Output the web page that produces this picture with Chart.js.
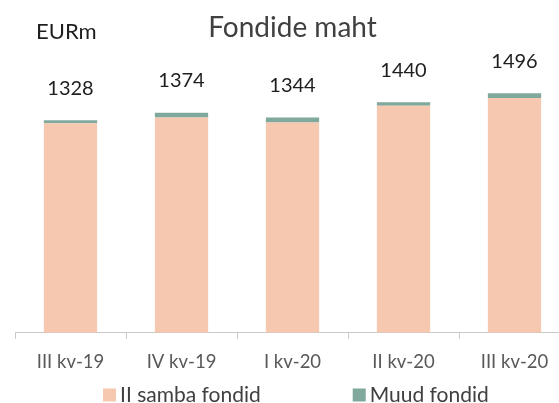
<!DOCTYPE html>
<html>
<head>
<meta charset="utf-8">
<script src="https://cdn.jsdelivr.net/npm/chart.js@4.4.1/dist/chart.umd.min.js"></script>
<style>
  html, body { margin: 0; padding: 0; background: #fff; overflow: hidden; }
  #wrap { width: 559px; height: 403px; overflow: hidden; }
</style>
</head>
<body>
<div id="wrap"><canvas id="chart" width="600" height="403"></canvas></div>
<script>
// data (EUR million)
const categories = ["III kv-19", "IV kv-19", "I kv-20", "II kv-20", "III kv-20"];
const sambaFondid = [1308, 1344, 1314, 1418, 1466];
const muudFondid = [20, 30, 30, 22, 30];
const seriesNames = ["II samba fondid", "Muud fondid"];
const seriesColors = ["#f6c8b0", "#80a89d"];

const FONT = 'Lato, "Open Sans", sans-serif';

// totals above the bars, the "EURm" unit and the legend
const decor = {
  id: "decor",
  afterDatasetsDraw(chart) {
    const ctx = chart.ctx;
    const y = chart.scales.y;
    const meta = chart.getDatasetMeta(0);
    ctx.save();
    ctx.textBaseline = "middle";

    ctx.font = "20px " + FONT;
    ctx.fillStyle = "#1e1e1e";
    ctx.textAlign = "center";
    categories.forEach((c, i) => {
      const total = sambaFondid[i] + muudFondid[i];
      ctx.fillText(String(total), meta.data[i].x, y.getPixelForValue(total) - 32);
    });

    ctx.textAlign = "left";
    ctx.font = "22px " + FONT;
    ctx.fillText("EURm", 36, 32);

    // legend
    ctx.font = "21px " + FONT;
    const box = 13, gap = 4, between = 92;
    const w = seriesNames.map(s => ctx.measureText(s).width);
    let x = 103;
    const ly = 395;
    seriesNames.forEach((name, i) => {
      ctx.fillStyle = seriesColors[i];
      ctx.fillRect(x, ly - box / 2, box, box);
      ctx.fillStyle = "#404040";
      ctx.fillText(name, x + box + gap, ly);
      x += box + gap + w[i] + between;
    });
    ctx.restore();
  }
};

new Chart(document.getElementById("chart"), {
  type: "bar",
  data: {
    labels: categories,
    datasets: [
      { label: seriesNames[0], data: sambaFondid, backgroundColor: seriesColors[0] },
      { label: seriesNames[1], data: muudFondid, backgroundColor: seriesColors[1] }
    ]
  },
  options: {
    responsive: false,
    animation: false,
    devicePixelRatio: 1,
    barPercentage: 0.48,
    categoryPercentage: 1,
    layout: { padding: { left: 15, right: 30, top: 0, bottom: 18 } },
    plugins: {
      legend: { display: false },
      tooltip: { enabled: false },
      title: {
        display: true,
        text: "Fondide maht",
        color: "#404040",
        font: { family: FONT, size: 28, weight: "normal" },
        padding: { top: 11, bottom: 0 }
      }
    },
    scales: {
      x: {
        stacked: true,
        grid: { offset: true, drawOnChartArea: false, drawTicks: true, tickLength: 6, color: "#c8c8c8" },
        border: { display: true, color: "#c8c8c8" },
        ticks: { color: "#595959", font: { family: FONT, size: 18.5 }, padding: 12 }
      },
      y: {
        stacked: true,
        display: false,
        min: 0,
        max: 1800
      }
    }
  },
  plugins: [decor]
});
</script>
</body>
</html>
